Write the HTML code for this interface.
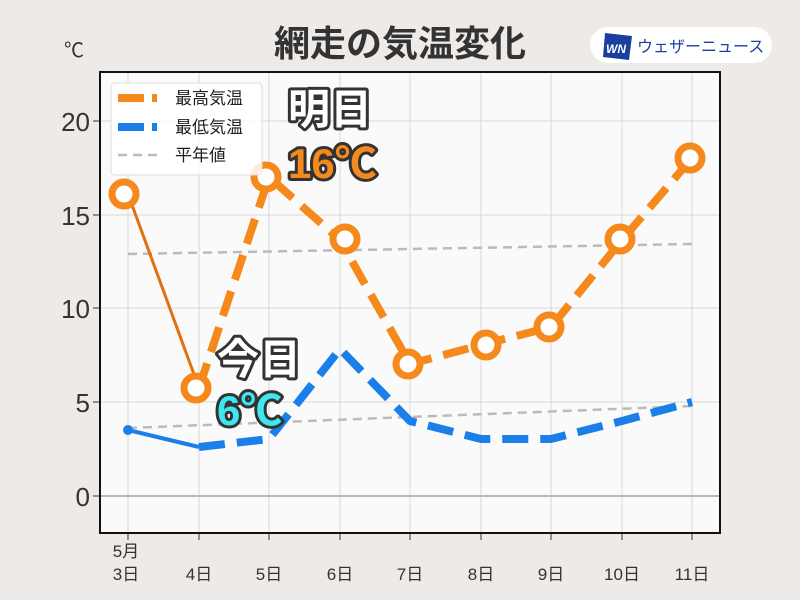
<!DOCTYPE html>
<html><head><meta charset="utf-8"><style>
body{margin:0;background:#eeeae8;}
svg{display:block;font-family:"Liberation Sans","Noto Sans CJK JP",sans-serif;}
</style></head><body>
<svg width="800" height="600" viewBox="0 0 800 600">
<rect width="800" height="600" fill="#eeeae8"/>
<text x="400" y="56" font-size="36" font-weight="bold" fill="#333" text-anchor="middle">網走の気温変化</text>
<text x="64" y="57" font-size="20" fill="#333">℃</text>
<rect x="590" y="27" width="182" height="36" rx="18" fill="#fff"/>
<polygon points="605,33 632,36 629,60 603,57" fill="#1a3f9c"/>
<text x="606" y="53" font-size="12" font-weight="bold" font-style="italic" fill="#fff">WN</text>
<text x="637" y="52" font-size="16" fill="#1a3f9c">ウェザーニュース</text>
<rect x="100" y="72" width="620" height="461" fill="#fafafa"/>
<g stroke="#d8d8d8" stroke-width="1">
<line x1="128" y1="72" x2="128" y2="533"/><line x1="199" y1="72" x2="199" y2="533"/><line x1="269" y1="72" x2="269" y2="533"/><line x1="340" y1="72" x2="340" y2="533"/><line x1="410" y1="72" x2="410" y2="533"/><line x1="481" y1="72" x2="481" y2="533"/><line x1="551" y1="72" x2="551" y2="533"/><line x1="622" y1="72" x2="622" y2="533"/><line x1="692" y1="72" x2="692" y2="533"/>
<line x1="100" y1="121" x2="720" y2="121"/><line x1="100" y1="215" x2="720" y2="215"/><line x1="100" y1="308" x2="720" y2="308"/><line x1="100" y1="402" x2="720" y2="402"/>
</g>
<line x1="100" y1="496" x2="720" y2="496" stroke="#b8b8b8" stroke-width="2"/>
<g stroke="#333" stroke-width="1">
<line x1="93" y1="121" x2="100" y2="121"/><line x1="93" y1="215" x2="100" y2="215"/><line x1="93" y1="308" x2="100" y2="308"/><line x1="93" y1="402" x2="100" y2="402"/><line x1="93" y1="496" x2="100" y2="496"/>
<line x1="128" y1="533" x2="128" y2="540"/><line x1="199" y1="533" x2="199" y2="540"/><line x1="269" y1="533" x2="269" y2="540"/><line x1="340" y1="533" x2="340" y2="540"/><line x1="410" y1="533" x2="410" y2="540"/><line x1="481" y1="533" x2="481" y2="540"/><line x1="551" y1="533" x2="551" y2="540"/><line x1="622" y1="533" x2="622" y2="540"/><line x1="692" y1="533" x2="692" y2="540"/>
</g>
<g font-size="26" fill="#333" text-anchor="end">
<text x="90" y="131">20</text><text x="90" y="225">15</text><text x="90" y="318">10</text><text x="90" y="412">5</text><text x="90" y="506">0</text>
</g>
<g font-size="17" fill="#333" text-anchor="middle">
<text x="126" y="557">5月</text><text x="126" y="580">3日</text><text x="199" y="580">4日</text><text x="269" y="580">5日</text><text x="340" y="580">6日</text><text x="410" y="580">7日</text><text x="481" y="580">8日</text><text x="551" y="580">9日</text><text x="622" y="580">10日</text><text x="692" y="580">11日</text>
</g>
<g stroke="#bbb" stroke-width="2.5" stroke-dasharray="9,6" fill="none">
<polyline points="128,254 692,244"/>
<polyline points="128,428 692,406"/>
</g>
<polyline points="128,430 199,447" stroke="#1a7fe8" stroke-width="4" fill="none"/>
<circle cx="128" cy="430" r="5" fill="#1a7fe8"/>
<polyline points="199,447 269,439 340,349 410,421 481,439 551,439 622,421 692,402" stroke="#1a7fe8" stroke-width="8" stroke-dasharray="26,12" fill="none"/>
<polyline points="128,194 199,388" stroke="#e07010" stroke-width="3" fill="none"/>
<polyline points="199,388 269,177 340,240 410,364 481,345 551,327 622,240 692,158" stroke="#f5891c" stroke-width="8" stroke-dasharray="26,12" fill="none"/>
<g fill="#fff" stroke="#f5891c" stroke-width="7">
<circle cx="124" cy="194" r="12"/><circle cx="196" cy="388" r="12"/><circle cx="266" cy="177" r="12"/><circle cx="345" cy="239" r="12"/><circle cx="408" cy="364" r="12"/><circle cx="486" cy="345" r="12"/><circle cx="549" cy="327" r="12"/><circle cx="620" cy="239" r="12"/><circle cx="690" cy="158" r="12"/>
</g>
<rect x="111" y="83" width="151" height="92" rx="4" fill="#fff" fill-opacity="0.85" stroke="#ddd"/>
<line x1="118" y1="98" x2="157" y2="98" stroke="#f5891c" stroke-width="8" stroke-dasharray="26,8"/>
<line x1="118" y1="127" x2="157" y2="127" stroke="#1a7fe8" stroke-width="8" stroke-dasharray="26,8"/>
<line x1="118" y1="155" x2="157" y2="155" stroke="#bbb" stroke-width="2.5" stroke-dasharray="9,6"/>
<g font-size="17" fill="#222"><text x="175" y="104">最高気温</text><text x="175" y="133">最低気温</text><text x="175" y="161">平年値</text></g>
<g font-size="42" font-weight="bold" stroke="#333" stroke-width="6" paint-order="stroke" stroke-linejoin="round">
<text x="288" y="124" fill="#fff">明日</text>
<text x="288" y="178" fill="#f5891c">16℃</text>
<text x="217" y="374" fill="#fff">今日</text>
<text x="217" y="425" fill="#3ee6f0">6℃</text>
</g>
<rect x="100" y="72" width="620" height="461" fill="none" stroke="#111" stroke-width="2"/>
</svg>
</body></html>
